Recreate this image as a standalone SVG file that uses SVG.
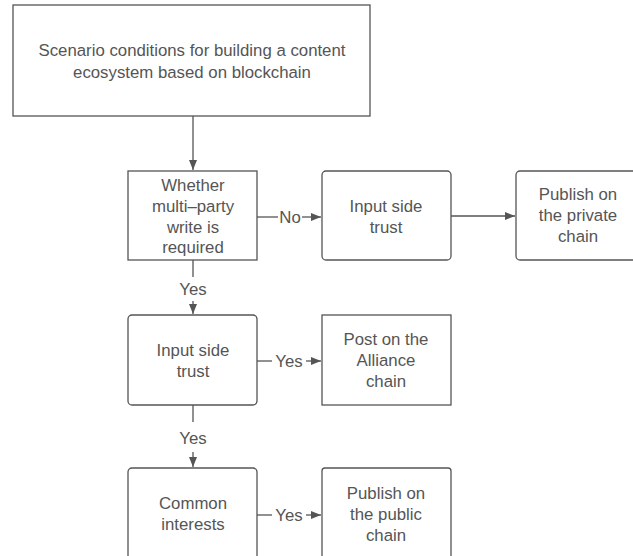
<svg xmlns="http://www.w3.org/2000/svg" width="633" height="556" viewBox="0 0 633 556">
<defs>
<marker id="ah" viewBox="0 0 10 10" refX="10" refY="5" markerWidth="10" markerHeight="10" markerUnits="userSpaceOnUse" orient="auto">
<path d="M0,1 L10,5 L0,9 Z" fill="#555"/>
</marker>
<style>
.box{fill:#fff;stroke:#555;stroke-width:1.3}
.t{font-family:"Liberation Sans",Arial,sans-serif;font-size:16.8px;fill:#555;text-anchor:middle;dominant-baseline:central}
.ln{stroke:#555;stroke-width:1.3;fill:none}
</style>
</defs>
<rect width="633" height="556" fill="#fff"/>
<g id="connectors">
<path class="ln" d="M193,116 V170" marker-end="url(#ah)"/>
<path class="ln" d="M257,217 H278"/>
<text class="t" x="290" y="217">No</text>
<path class="ln" d="M302,217 H321" marker-end="url(#ah)"/>
<path class="ln" d="M451,216 H515" marker-end="url(#ah)"/>
<path class="ln" d="M193,260 V277"/>
<text class="t" x="193" y="289">Yes</text>
<path class="ln" d="M193,301 V314" marker-end="url(#ah)"/>
<path class="ln" d="M257,361 H272"/>
<text class="t" x="289" y="361">Yes</text>
<path class="ln" d="M306,361 H321" marker-end="url(#ah)"/>
<path class="ln" d="M193,405 V422"/>
<text class="t" x="193" y="438">Yes</text>
<path class="ln" d="M193,452 V467" marker-end="url(#ah)"/>
<path class="ln" d="M257,515 H272"/>
<text class="t" x="289" y="515">Yes</text>
<path class="ln" d="M306,515 H321" marker-end="url(#ah)"/>
</g>
<g id="start">
<rect class="box" x="13" y="5" width="357" height="111"/>
<text class="t" x="192" y="50">Scenario conditions for building a content</text>
<text class="t" x="192" y="72">ecosystem based on blockchain</text>
</g>
<g id="multiparty">
<rect class="box" x="128" y="171" width="129" height="89"/>
<text class="t" x="193" y="185">Whether</text>
<text class="t" x="193" y="206">multi–party</text>
<text class="t" x="193" y="227">write is</text>
<text class="t" x="193" y="247">required</text>
</g>
<g id="trust1">
<rect class="box" x="322" y="171" width="129" height="89" rx="4"/>
<text class="t" x="386" y="206">Input side</text>
<text class="t" x="386" y="227">trust</text>
</g>
<g id="private">
<rect class="box" x="516" y="171" width="130" height="89" rx="4"/>
<text class="t" x="578" y="194">Publish on</text>
<text class="t" x="578" y="215">the private</text>
<text class="t" x="578" y="236">chain</text>
</g>
<g id="trust2">
<rect class="box" x="128" y="315" width="129" height="90" rx="4"/>
<text class="t" x="193" y="350">Input side</text>
<text class="t" x="193" y="371">trust</text>
</g>
<g id="alliance">
<rect class="box" x="322" y="315" width="129" height="90"/>
<text class="t" x="386" y="339">Post on the</text>
<text class="t" x="386" y="360">Alliance</text>
<text class="t" x="386" y="381">chain</text>
</g>
<g id="common">
<rect class="box" x="128" y="468" width="129" height="100" rx="4"/>
<text class="t" x="193" y="503">Common</text>
<text class="t" x="193" y="524">interests</text>
</g>
<g id="public">
<rect class="box" x="322" y="468" width="129" height="100" rx="3"/>
<text class="t" x="386" y="493">Publish on</text>
<text class="t" x="386" y="514">the public</text>
<text class="t" x="386" y="535">chain</text>
</g>
</svg>
